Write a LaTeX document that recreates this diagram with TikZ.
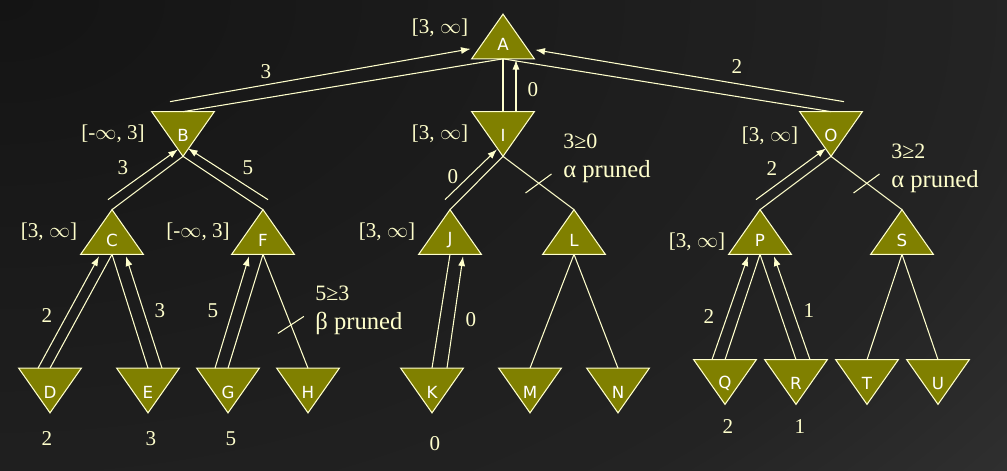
\documentclass[tikz,border=0pt]{standalone}
\usepackage{fontspec}
\setmainfont{Liberation Serif}
\newfontfamily\tagfont{DejaVu Sans}
\usepackage{xcolor}
\usetikzlibrary{positioning, arrows.meta, calc}

\definecolor{olivefill}{HTML}{808000}
\definecolor{paleline}{HTML}{FFFFCC}
\definecolor{bgA}{HTML}{141414}
\definecolor{bgB}{HTML}{232323}
\definecolor{bgC}{HTML}{3A3A3A}
\definecolor{bgD}{HTML}{474747}
\definecolor{bgE}{HTML}{4B4B4B}
\pgfdeclareradialshading{bgglow}{\pgfpoint{0bp}{0bp}}{color(0bp)=(bgA); color(23bp)=(bgB); color(35bp)=(bgC); color(47bp)=(bgD); color(50bp)=(bgE)}

\begin{document}
\begin{tikzpicture}[
  x=0.02cm, y=-0.02cm,
  >={Latex[length=5.5pt,width=4pt]},
  every node/.style={font=\fontsize{12}{14}\selectfont, text=paleline, inner sep=0pt},
  box/.style={rectangle, minimum width=1.24cm, minimum height=0.88cm},
  tri/.style={fill=olivefill, draw=paleline, line width=0.6pt},
  tag/.style={font=\tagfont\fontsize{9.5}{11}\selectfont, text=white},
  link/.style={draw=paleline, line width=0.6pt},
  ret/.style={link, ->},
  cond/.style={anchor=base west, font=\fontsize{12.5}{14}\selectfont},
  note/.style={anchor=base west, font=\fontsize{14}{16}\selectfont}
]
% Background
\useasboundingbox (0,0) rectangle (1007,470);
\begin{scope}
\clip (0,0) rectangle (1007,470);
\shade[shading=bgglow] (-1071,-671) rectangle (1071,671);
\end{scope}

% Max nodes
\foreach \n/\x/\y in {A/503/36.5, C/112/232, F/263/232, J/450/232, L/574/232, P/760/232, S/902/232}{
  \node[box] (\n) at (\x,\y) {};
  \draw[tri] (\n.south west) -- (\n.south east) -- (\n.north) -- cycle;
  \node[tag] (\n-tag) at ($(\n.south)!.32!(\n.north)$) {\n};
}
% Min nodes
\foreach \n/\x/\y in {B/183/134, I/503/134, O/831/134, D/50/390.5, E/148/390.5, G/228/390.5,
    H/308/390.5, K/432/390.5, M/530/390.5, N/618/390.5, Q/725/382, R/796/382, T/867/382, U/938/382}{
  \node[box] (\n) at (\x,\y) {};
  \draw[tri] (\n.north west) -- (\n.north east) -- (\n.south) -- cycle;
  \node[tag] (\n-tag) at ([yshift=-1pt]\n.center) {\n};
}

% Tree edges
\foreach \p/\c in {A/B, A/I, A/O, B/C, B/F, I/J, I/L, O/P, O/S, C/D, C/E, F/G, F/H,
    J/K, L/M, L/N, P/Q, P/R, S/T, S/U}
  \draw[link] (\p.south) -- (\c.north);

% Backed-up values
\draw[ret] ([shift={(-13,-10)}]B.north) -- ([shift={(-1,-10)}]A.south west);
\draw[ret] ([shift={(13,0)}]I.north) -- ([shift={(13,1)}]A.south);
\draw[ret] ([shift={(13,-10)}]O.north) -- ([shift={(1,-9)}]A.south east);
\draw[ret] ([shift={(-4,-10)}]C.north) -- ([shift={(-5,-7)}]B.south);
\draw[ret] ([shift={(5,-10)}]F.north) -- ([shift={(5,-8)}]B.south);
\draw[ret] ([shift={(-5,-10)}]J.north) -- ([shift={(-6,-7)}]I.south);
\draw[ret] ([shift={(-4,-10)}]P.north) -- ([shift={(-5,-8)}]O.south);
\draw[ret] ([shift={(-12,0)}]D.north) -- ([shift={(-13,2)}]C.south);
\draw[ret] ([shift={(14,0)}]E.north) -- ([shift={(14,2)}]C.south);
\draw[ret] ([shift={(-13,0)}]G.north) -- ([shift={(-14,2)}]F.south);
\draw[ret] ([shift={(15,0)}]K.north) -- ([shift={(13,2)}]J.south);
\draw[ret] ([shift={(-13,0)}]Q.north) -- ([shift={(-12,2)}]P.south);
\draw[ret] ([shift={(14,0)}]R.north) -- ([shift={(14,2)}]P.south);

% Pruned edges
\draw[link] ($(I.south)!.5!(L.north)$) ++(-13,10) -- ++(26,-19);
\draw[link] ($(O.south)!.5!(S.north)$) ++(-13,10) -- ++(26,-19);
\draw[link] ($(F.south)!.62!(H.north)$) ++(-13,8.5) -- ++(26,-17);

% Windows
\node (wA) at (440,28) {[3, $\infty$]};
\node (wB) at (113,134) {[-$\infty$, 3]};
\node (wI) at (440,134) {[3, $\infty$]};
\node (wO) at (770,136) {[3, $\infty$]};
\node (wC) at (49,232) {[3, $\infty$]};
\node (wF) at (198,232) {[-$\infty$, 3]};
\node (wJ) at (387,232) {[3, $\infty$]};
\node (wP) at (697,242) {[3, $\infty$]};

% Edge values
\node (vAB) at (266,72) {3};
\node (vAI) at (533,90) {0};
\node (vAO) at (737,67) {2};
\node (vBC) at (123,168) {3};
\node (vBF) at (248,168) {5};
\node (vIJ) at (453,177) {0};
\node (vOP) at (772,169) {2};
\node (vCD) at (47,316) {2};
\node (vCE) at (160,311) {3};
\node (vFG) at (213,311) {5};
\node (vJK) at (471,320) {0};
\node (vPQ) at (709,317) {2};
\node (vPR) at (809,311) {1};

% Leaf values
\node (lD) at (47,439) {2};
\node (lE) at (151,439) {3};
\node (lG) at (231,439) {5};
\node (lK) at (435,444) {0};
\node (lQ) at (728,427) {2};
\node (lR) at (800,427) {1};

% Cut-off notes
\node[cond] (nI1) at (563,148) {3≥0};
\node[note] (nI2) at (563,177) {α pruned};
\node[cond] (nO1) at (891,158) {3≥2};
\node[note] (nO2) at (891,187) {α pruned};
\node[cond] (nF1) at (315,300) {5≥3};
\node[note] (nF2) at (315,329) {β pruned};

\end{tikzpicture}
\end{document}
